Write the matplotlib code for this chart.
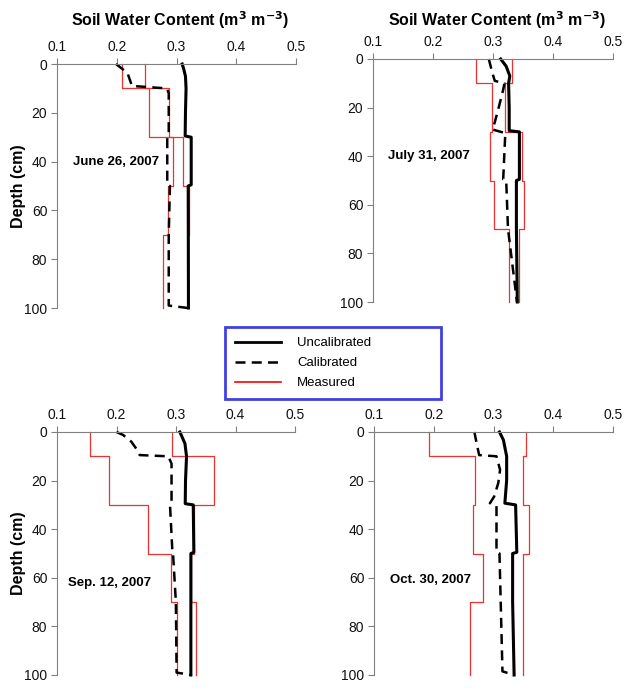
import numpy as np
import matplotlib
matplotlib.use("Agg")
import matplotlib.pyplot as plt
from matplotlib.lines import Line2D

plt.rcParams['font.family'] = ['Liberation Sans', 'DejaVu Sans']

# warstwy pomiarowe (cm)
layer_edges = [0, 10, 30, 50, 70, 100]

dates = ['June 26, 2007', 'July 31, 2007', 'Sep. 12, 2007', 'Oct. 30, 2007']
date_pos = [(0.127, 40), (0.125, 40), (0.119, 62), (0.126, 61)]

# pomiary - dolna i gorna granica w kazdej warstwie
meas_low = [
    [0.209, 0.2535, 0.294, 0.285, 0.278],
    [0.272, 0.299, 0.2956, 0.3017, 0.326],
    [0.155, 0.187, 0.253, 0.291, 0.301],
    [0.1923, 0.269, 0.265, 0.283, 0.2606],
]
meas_high = [
    [0.248, 0.288, 0.311, 0.321, 0.319],
    [0.332, 0.320, 0.349, 0.351, 0.343],
    [0.294, 0.364, 0.330, 0.326, 0.3335],
    [0.3546, 0.349, 0.360, 0.349, 0.350],
]

# model nieskalibrowany
unc_depth = [
    [0, 2, 5, 10, 20, 29.5, 30, 49.5, 50, 100],
    [0, 3, 7, 10, 20, 29.5, 30, 49.5, 50, 70, 100],
    [0, 4.7, 10, 20, 29.5, 30, 49.5, 50, 100],
    [0, 3.3, 10, 20, 29.3, 30, 49.5, 50, 70, 100],
]
unc_theta = [
    [0.3095, 0.312, 0.315, 0.316, 0.315, 0.3145, 0.3246, 0.3246, 0.3196, 0.320],
    [0.3128, 0.322, 0.328, 0.326, 0.327, 0.327, 0.344, 0.344, 0.339, 0.339, 0.3405],
    [0.3065, 0.315, 0.3177, 0.316, 0.3155, 0.329, 0.330, 0.325, 0.325],
    [0.310, 0.3166, 0.322, 0.322, 0.319, 0.337, 0.339, 0.332, 0.332, 0.3345],
]

# model skalibrowany
cal_depth = [
    [0, 1, 3.7, 9, 10, 12, 28, 30, 49.5, 50, 70, 99, 100],
    [0, 5.8, 9, 10, 12.6, 19.5, 26, 29, 30.5, 49.5, 50, 70, 100],
    [0, 1.2, 4, 7.4, 9.5, 10, 13, 28.7, 30.5, 49.5, 50, 70, 99, 100],
    [0, 4.7, 9.5, 10, 15.6, 21, 26.6, 29.3, 30.5, 49.5, 50, 98.5, 100],
]
cal_theta = [
    [0.1986, 0.204, 0.218, 0.2255, 0.284, 0.287, 0.287, 0.2845, 0.2845, 0.289, 0.287, 0.287, 0.319],
    [0.293, 0.299, 0.303, 0.319, 0.317, 0.310, 0.303, 0.299, 0.3205, 0.317, 0.322, 0.325, 0.340],
    [0.200, 0.211, 0.225, 0.2347, 0.239, 0.287, 0.2925, 0.2925, 0.290, 0.294, 0.295, 0.2998, 0.301, 0.326],
    [0.268, 0.2718, 0.276, 0.305, 0.311, 0.308, 0.301, 0.294, 0.305, 0.305, 0.310, 0.315, 0.3345],
]

# polozenie osi w pikselach (lewo, gora, prawo, dol)
boxes_px = [(57, 64, 296, 308), (373, 59, 613, 302), (57, 432, 295, 675), (374, 432, 613, 675)]
W, H = 627, 688

red = '#ee3030'
grey = '#808080'

fig = plt.figure(figsize=(W / 100, H / 100), dpi=100)


def schodki(edges, vals):
    d = np.repeat(edges, 2)[1:-1]
    v = np.repeat(vals, 2)
    return d, v


for k in range(4):
    l, t, r, b = boxes_px[k]
    ax = fig.add_axes([l / W, 1 - b / H, (r - l) / W, (b - t) / H])
    d, v = schodki(layer_edges, meas_low[k])
    ax.plot(v, d, color=red, lw=0.9, clip_on=False)
    d, v = schodki(layer_edges, meas_high[k])
    ax.plot(v, d, color=red, lw=0.9, clip_on=False)
    ax.plot(unc_theta[k], unc_depth[k], color='black', lw=2.2, clip_on=False)
    ax.plot(cal_theta[k], cal_depth[k], color='black', lw=1.8, ls=(0, (4, 2.5)), clip_on=False)

    ax.set_xlim(0.1, 0.5)
    ax.set_ylim(100, 0)
    ax.set_xticks([0.1, 0.2, 0.3, 0.4, 0.5])
    ax.set_xticklabels(['0.1', '0.2', '0.3', '0.4', '0.5'])
    ax.set_yticks([0, 20, 40, 60, 80, 100])
    ax.xaxis.tick_top()
    ax.spines['right'].set_visible(False)
    ax.spines['bottom'].set_visible(False)
    ax.spines['top'].set_color(grey)
    ax.spines['left'].set_color(grey)
    ax.tick_params(axis='both', direction='out', length=4, color=grey,
                   labelsize=10, labelcolor='#111111', pad=3)
    ax.text(date_pos[k][0], date_pos[k][1], dates[k], fontsize=9.5,
            fontweight='bold', ha='left', va='center')

    if k < 2:
        fig.text(((l + r) / 2 + 4) / W, 1 - 20 / H,
                 r'Soil Water Content (m$^\mathbf{3}$ m$^\mathbf{-3}$)',
                 ha='center', va='center', fontsize=11.5, fontweight='bold')
    if k % 2 == 0:
        fig.text(19 / W, 1 - ((t + b) / 2) / H, 'Depth (cm)', rotation=90,
                 ha='center', va='center', fontsize=11.5, fontweight='bold')

handles = [
    Line2D([], [], color='black', lw=2),
    Line2D([], [], color='black', lw=1.8, ls=(0, (4, 2.5))),
    Line2D([], [], color='red', lw=1.2),
]
leg = fig.legend(handles, ['Uncalibrated', 'Calibrated', 'Measured'],
                 loc='upper left', bbox_to_anchor=(225 / W, 1 - 327 / H - 0.01, 216 / W, 0.01),
                 mode='expand', fontsize=9.5, frameon=True, fancybox=False,
                 handlelength=3.5, handletextpad=1.2, labelspacing=0.6,
                 borderpad=0.75, borderaxespad=0)
leg.get_frame().set_edgecolor('#1010dd')
leg.get_frame().set_linewidth(2)

fig.savefig('out.png', dpi=100)
